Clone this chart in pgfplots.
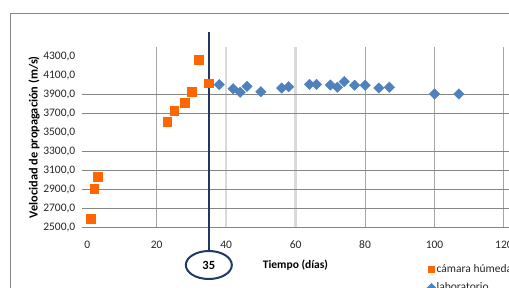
\documentclass[border=0pt]{standalone}
\usepackage{pgfplots}
\pgfplotsset{compat=1.18}
\usepackage{fontspec}
\setmainfont{Carlito}
\definecolor{orangeM}{RGB}{255,102,0}
\definecolor{blueM}{RGB}{79,129,189}
\definecolor{navyL}{RGB}{31,56,100}
\definecolor{gridH}{RGB}{134,134,134}
\definecolor{gridV}{RGB}{166,166,166}
\definecolor{gridL}{RGB}{217,217,217}
\pgfplotsset{mylegimg/.style={legend image code/.code={\draw[##1, mark size=3bp] plot coordinates {(3bp,0bp)};}}}
\begin{document}
\begin{tikzpicture}[font=\fontsize{11.5bp}{13bp}\selectfont]
\useasboundingbox (0,0) rectangle (509bp,288bp);
\clip (0,0) rectangle (509bp,288bp);
\draw[gridH, line width=0.8bp] (10bp,-5bp) -- (10bp,274.7bp) -- (520bp,274.7bp);
\begin{axis}[
  at={(87.3bp,60.7bp)}, anchor=south west,
  scale only axis, width=422.2bp, height=180.3bp,
  xmin=0, xmax=121.6, ymin=2500, ymax=4403,
  axis line style={draw=none},
  clip=false,
  /pgf/number format/assume math mode=true,
  xtick={0,20,...,120},
  ytick={2500,2700,...,4300},
  major tick length=0pt, minor tick length=0pt,
  tick style={draw=none},
  minor xtick={40,60},
  xminorgrids=true,
  minor grid style={gridL, line width=2.5bp},
  extra x ticks={20,80,100,120},
  extra x tick labels={},
  extra x tick style={xmajorgrids=true, major grid style={gridV, line width=1bp}},
  extra y ticks={2500,2700,2900,3100,3300,3700,3900},
  extra y tick labels={},
  extra y tick style={ymajorgrids=true, major grid style={gridH, line width=0.9bp},
     major tick length=5bp, tick align=outside, tick style={draw=gridH, line width=0.9bp}},
  xticklabel style={yshift=-10bp, text=black!85},
  yticklabel style={xshift=-8.5bp, text=black!85,
     /pgf/number format/.cd, fixed, fixed zerofill, precision=1, use comma, 1000 sep={}},
  xlabel={Tiempo (días)},
  ylabel={Velocidad de propagación (m/s)},
  every axis x label/.style={at={(rel axis cs:0.493,-0.209)}, anchor=center, font=\fontsize{11.5bp}{13bp}\selectfont\bfseries},
  every axis y label/.style={at={(rel axis cs:-0.1262,0.5)}, rotate=90, anchor=center, font=\fontsize{12.3bp}{14bp}\selectfont\bfseries},
  legend style={at={(rel axis cs:0.8046,-0.1995)}, anchor=north west, draw=none, fill=none,
     inner sep=0pt, row sep=7bp, nodes={inner sep=1bp, anchor=west, text=black!85}},
  legend cell align=left,
]
\addplot[only marks, mark=square*, mark size=4.4bp, color=orangeM, mylegimg]
  coordinates {(1,2588) (2,2904) (3,3034) (23,3614) (25,3727) (28,3815) (30,3928) (32,4273) (35,4020)};
\addlegendentry{cámara húmeda}
\addplot[only marks, mark=square*, mark options={rotate=45}, mark size=3.7bp, color=blueM, mylegimg]
  coordinates {(38,4005) (42,3963) (44,3925) (46,3988) (50,3931) (56,3970) (58,3984)
    (64,4009) (66,4009) (70,4002) (72,3978) (74,4037) (77,3999) (80,3999) (84,3970)
    (87,3978) (100,3907) (107,3907)};
\addlegendentry{laboratorio}
\addplot[navyL, line width=2bp, forget plot] coordinates {(35,4561) (35,2250)};
\draw[navyL, line width=2bp] (axis cs:35,2102) ellipse [x radius=23bp, y radius=14bp];
\node[font=\fontsize{12.5bp}{14bp}\selectfont\bfseries, text=black] at (axis cs:35,2102) {35};
\end{axis}
\end{tikzpicture}
\end{document}
